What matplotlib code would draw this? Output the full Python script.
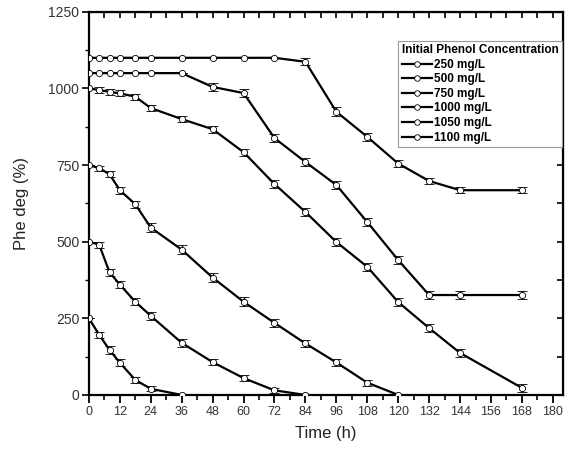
import matplotlib
matplotlib.use('Agg')
from matplotlib import pyplot as plt
from matplotlib.lines import Line2D
from matplotlib.ticker import MultipleLocator
import numpy as np

plt.rcParams['font.family'] = ['Liberation Sans', 'DejaVu Sans']

# sampling times (h)
t = [0, 4, 8, 12, 18, 24, 36, 48, 60, 72, 84, 96, 108, 120, 132, 144, 168]

labels = ['250 mg/L', '500 mg/L', '750 mg/L', '1000 mg/L', '1050 mg/L', '1100 mg/L']

deg_250 = [250, 196, 147, 105, 49, 20, 0]
deg_500 = [500, 490, 400, 360, 304, 258, 170, 107, 55, 15, 0]
deg_750 = [750, 740, 720, 668, 622, 546, 474, 383, 304, 235, 168, 106, 40, 0]
deg_1000 = [1000, 995, 989, 984, 973, 936, 900, 867, 792, 688, 597, 499, 418, 303, 218, 137, 23]
deg_1050 = [1050, 1050, 1050, 1050, 1050, 1050, 1050, 1005, 985, 838, 760, 685, 564, 440, 326, 326, 326]
deg_1100 = [1100, 1100, 1100, 1100, 1100, 1100, 1100, 1100, 1100, 1100, 1087, 924, 842, 755, 698, 668, 668]

# error bar half-heights
err_250 = [0, 10, 12, 12, 10, 8, 0]
err_500 = [0, 10, 12, 12, 12, 12, 12, 10, 10, 8, 0]
err_750 = [0, 8, 10, 12, 12, 14, 14, 14, 14, 14, 12, 12, 10, 0]
err_1000 = [0, 10, 10, 10, 10, 10, 10, 12, 12, 12, 12, 12, 12, 12, 12, 12, 12]
err_1050 = [0, 0, 0, 0, 0, 0, 0, 12, 14, 14, 12, 12, 12, 12, 12, 12, 12]
err_1100 = [0, 0, 0, 0, 0, 0, 0, 0, 0, 0, 12, 14, 14, 12, 10, 10, 10]

series = [deg_250, deg_500, deg_750, deg_1000, deg_1050, deg_1100]
errors = [err_250, err_500, err_750, err_1000, err_1050, err_1100]

fig = plt.figure(figsize=(5.7, 4.55), dpi=100)
ax = fig.add_axes([0.156, 0.132, 0.832, 0.842])

for y, e in zip(series, errors):
    x = t[:len(y)]
    ax.errorbar(x, y, yerr=e, color='black', lw=1.6, marker='o', ms=4.5,
                mfc='white', mec='black', mew=0.6, ecolor='black',
                elinewidth=1.0, capsize=3.5, capthick=1.0, zorder=3)

ax.set_xlim(0, 184)
ax.set_ylim(0, 1250)
ax.xaxis.set_major_locator(MultipleLocator(12))
ax.xaxis.set_minor_locator(MultipleLocator(6))
ax.yaxis.set_major_locator(MultipleLocator(250))
ax.yaxis.set_minor_locator(MultipleLocator(125))
ax.tick_params(axis='x', which='major', direction='out', length=6, width=1.3,
               labelsize=9, pad=2, labelcolor='#333333')
ax.tick_params(axis='x', which='minor', direction='out', length=3.5, width=1.2)
ax.tick_params(axis='y', which='major', direction='out', length=5, width=1.2,
               labelsize=10, pad=2, labelcolor='#333333')
ax.tick_params(axis='y', which='minor', direction='out', length=3, width=1.0)

for s in ax.spines.values():
    s.set_linewidth(1.6)

top = ax.secondary_xaxis('top')
top.xaxis.set_major_locator(MultipleLocator(6))
top.tick_params(direction='in', length=4, width=1.2, labeltop=False)
right = ax.secondary_yaxis('right')
right.yaxis.set_major_locator(MultipleLocator(125))
right.tick_params(direction='in', length=4, width=1.2, labelright=False)

ax.set_xlabel('Time (h)', fontsize=12, labelpad=6, color='#222222')
ax.set_ylabel('Phe deg (%)', fontsize=12, labelpad=14, color='#222222')

handles = [Line2D([0], [0], color='black', lw=1.6, marker='o', ms=4,
                  mfc='white', mec='black', mew=0.6) for _ in labels]
leg = ax.legend(handles, labels, title='Initial Phenol Concentration',
                loc='upper left', bbox_to_anchor=(0.652, 0.925),
                prop={'size': 8.5, 'weight': 'bold'},
                title_fontproperties={'size': 8.5, 'weight': 'bold'},
                alignment='left', frameon=True, fancybox=False,
                edgecolor='#999999', framealpha=1, handlelength=2.6,
                labelspacing=0.22, borderpad=0.3, handletextpad=0.1,
                borderaxespad=0)
leg.get_frame().set_linewidth(0.8)

plt.savefig('out.png', dpi=100)
